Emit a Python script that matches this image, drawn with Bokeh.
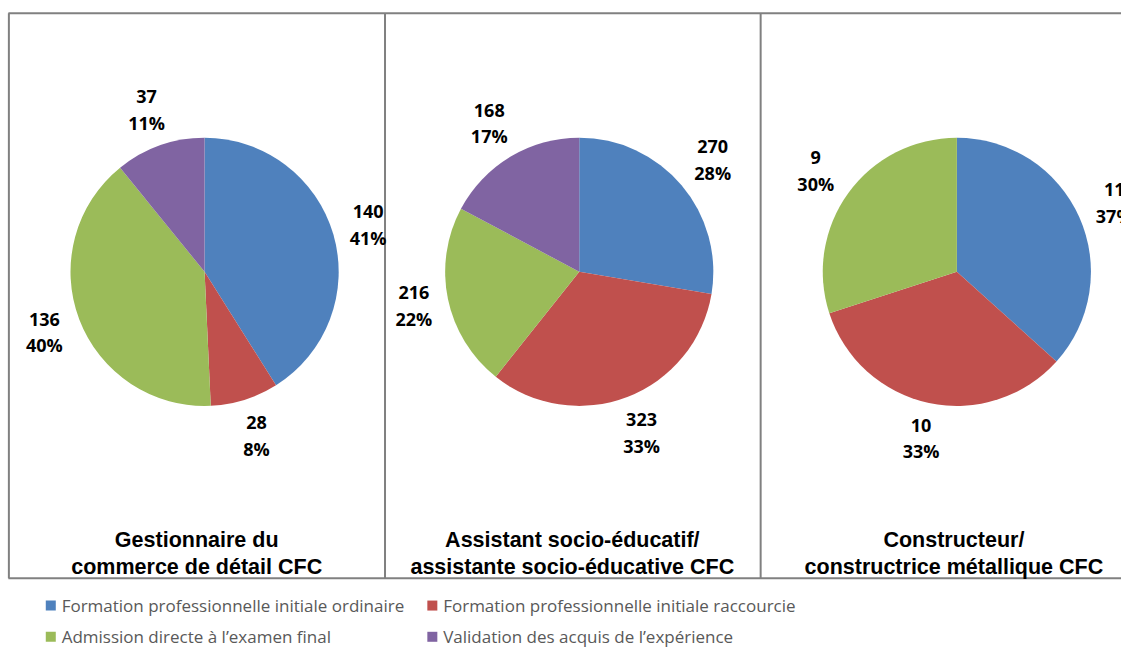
import numpy as np
from bokeh.plotting import figure
from bokeh.models import Range1d
from bokeh.core.properties import value
from bokeh.embed import file_html
from bokeh.resources import INLINE

# ---- data ----
categories = ["Formation professionnelle initiale ordinaire",
              "Formation professionnelle initiale raccourcie",
              "Admission directe à l\u2019examen final",
              "Validation des acquis de l\u2019expérience"]
colors = ["#4F81BD", "#C0504D", "#9BBB59", "#8064A2"]

titles = [["Gestionnaire du", "commerce de détail CFC"],
          ["Assistant socio-éducatif/", "assistante socio-éducative CFC"],
          ["Constructeur/", "constructrice métallique CFC"]]
values_gest = [140, 28, 136, 37]
values_ase = [270, 323, 216, 168]
values_cons = [11, 10, 9, 0]
all_values = [values_gest, values_ase, values_cons]

# ---- layout: data units = reference picture pixels (1137 x 664) ----
W, H = 1121, 648
REF_W, REF_H = 1137, 664
def Y(sy):
    return REF_H - sy

p = figure(width=W, height=H, output_backend="svg", toolbar_location=None,
           x_range=Range1d(0, REF_W), y_range=Range1d(0, REF_H),
           min_border=0)
p.axis.visible = False
p.grid.visible = False
p.outline_line_color = None
p.background_fill_color = "white"
p.border_fill_color = "white"

# panel frame
border_col = "#808080"
p.segment(x0=[8, 8], y0=[Y(13), Y(592)], x1=[1145, 1145], y1=[Y(13), Y(592)],
          line_color=border_col, line_width=2)
p.segment(x0=[8.5, 390, 771], y0=[Y(13)] * 3, x1=[8.5, 390, 771], y1=[Y(592)] * 3,
          line_color=border_col, line_width=2)

centers_x = [207, 587, 970]
title_x = [199, 580, 967]
cy = Y(278)
R = 136
gap = 12

FONT_LBL = value("Open Sans")
for k, vals in enumerate(all_values):
    vals = np.array(vals, dtype=float)
    total = vals.sum()
    frac = vals / total
    cum = np.concatenate([[0], np.cumsum(frac)])
    keep = vals > 0
    start = np.pi / 2 - 2 * np.pi * cum[:-1]
    end = np.pi / 2 - 2 * np.pi * cum[1:]
    cx = centers_x[k]
    p.wedge(x=[cx] * int(keep.sum()), y=[cy] * int(keep.sum()), radius=R,
            start_angle=list(start[keep]), end_angle=list(end[keep]),
            direction="clock", fill_color=[c for c, kk in zip(colors, keep) if kk],
            line_color=None)
    # labels
    mid = 2 * np.pi * (cum[:-1] + cum[1:]) / 2  # clockwise from top
    lx, ly, t1, t2 = [], [], [], []
    for i in range(len(vals)):
        if not keep[i]:
            continue
        s, c = np.sin(mid[i]), np.cos(mid[i])
        r = R + gap + abs(s) * 19 + abs(c) * 23
        lx.append(cx + r * s)
        ly.append(cy + r * c)
        t1.append(str(int(vals[i])))
        t2.append(f"{round(frac[i] * 100):.0f}%")
    p.text(x=lx, y=[v + 13.5 for v in ly], text=t1, text_align="center",
           text_baseline="middle", text_font=FONT_LBL, text_font_style="bold",
           text_font_size="18px", text_color="black")
    p.text(x=lx, y=[v - 13.5 for v in ly], text=t2, text_align="center",
           text_baseline="middle", text_font=FONT_LBL, text_font_style="bold",
           text_font_size="18px", text_color="black")
    # title
    p.text(x=[title_x[k]] * 2, y=[Y(553), Y(580)], text=titles[k],
           text_align="center", text_baseline="middle",
           text_font=value("Liberation Sans"), text_font_style="bold",
           text_font_size="21.5px", text_color="black")

# legend
leg_x = [51, 438, 51, 438]
leg_y = [Y(620), Y(620), Y(652), Y(652)]
p.scatter(x=leg_x, y=leg_y, marker="square", size=10, fill_color=colors,
          line_color=None)
p.text(x=[v + 11 for v in leg_x], y=leg_y, text=categories, text_align="left",
       text_baseline="middle", text_font=value("Open Sans"),
       text_font_size="17px", text_color="#595959")

open("out.html", "w").write(file_html(p, INLINE))
